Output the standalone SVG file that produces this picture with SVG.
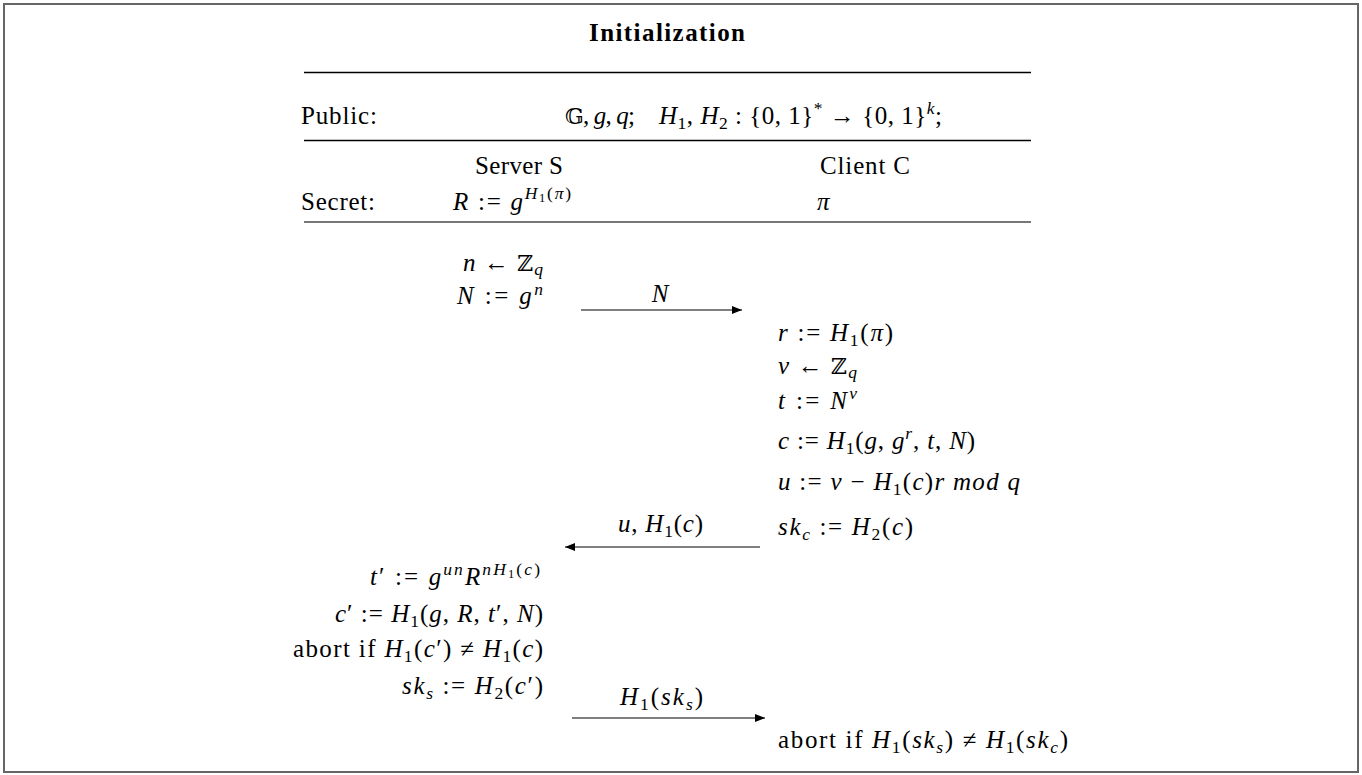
<svg xmlns="http://www.w3.org/2000/svg" width="1362" height="775" viewBox="0 0 1362 775">
<defs>
<style>
text{font-family:"Liberation Serif","DejaVu Serif",serif;font-size:25px;fill:#000}
.i{font-style:italic}
.s{font-size:17.5px}
.ss{font-size:12.5px}
.b{font-family:"DejaVu Serif","Liberation Serif",serif;font-size:22px}
.rule{stroke:#000;stroke-width:1.3}
.conn{stroke:#000;stroke-width:1.2;fill:none}
</style>
<marker id="ah" viewBox="0 0 10 8" refX="10" refY="4" markerWidth="10" markerHeight="8" markerUnits="userSpaceOnUse" orient="auto">
<path d="M0,0 L10,4 L0,8 z" fill="#000"/>
</marker>
</defs>
<rect x="4" y="4" width="1354" height="768" fill="#fff" stroke="#666" stroke-width="2"/>
<g id="header">
<text x="667" y="41" text-anchor="middle" font-weight="bold" textLength="156">Initialization</text>
<line class="rule" x1="304" y1="72.5" x2="1031" y2="72.5"/>
<text x="301" y="124" textLength="76">Public:</text>
<text x="565" y="124" textLength="70"><tspan class="b">𝔾</tspan>, <tspan class="i">g</tspan>, <tspan class="i">q</tspan>;</text>
<text x="659" y="124" textLength="283"><tspan class="i">H</tspan><tspan class="s" dy="5">1</tspan><tspan dy="-5">, </tspan><tspan class="i">H</tspan><tspan class="s" dy="5">2</tspan><tspan dy="-5"> : {0, 1}</tspan><tspan class="s" dy="-10">*</tspan><tspan dy="10"> → {0, 1}</tspan><tspan class="s i" dy="-10">k</tspan><tspan dy="10">;</tspan></text>
<line class="rule" x1="304" y1="140.5" x2="1031" y2="140.5"/>
<text x="519" y="174" text-anchor="middle" textLength="88">Server S</text>
<text x="865" y="174" text-anchor="middle" textLength="90">Client C</text>
<text x="301" y="210" textLength="74">Secret:</text>
<text x="453" y="210" textLength="118"><tspan class="i">R</tspan> := <tspan class="i">g</tspan><tspan class="s i" dy="-11">H</tspan><tspan class="ss" dy="3">1</tspan><tspan class="s" dy="-3">(</tspan><tspan class="s i">π</tspan><tspan class="s">)</tspan></text>
<text x="817" y="210" class="i">π</text>
<line x1="304" y1="222" x2="1031" y2="222" stroke="#777" stroke-width="2"/>
</g>
<g id="server">
<text x="543" y="271" text-anchor="end" textLength="80"><tspan class="i">n</tspan> ← <tspan class="b">ℤ</tspan><tspan class="s i" dy="4">q</tspan></text>
<text x="543" y="304" text-anchor="end" textLength="86"><tspan class="i">N</tspan> := <tspan class="i">g</tspan><tspan class="s i" dy="-9">n</tspan></text>
<text x="540" y="585" text-anchor="end" textLength="170"><tspan class="i">t</tspan>′ := <tspan class="i">g</tspan><tspan class="s i" dy="-10">un</tspan><tspan class="i" dy="10">R</tspan><tspan class="s i" dy="-10">nH</tspan><tspan class="ss" dy="3">1</tspan><tspan class="s" dy="-3">(</tspan><tspan class="s i">c</tspan><tspan class="s">)</tspan></text>
<text x="543" y="622" text-anchor="end" textLength="208"><tspan class="i">c</tspan>′ := <tspan class="i">H</tspan><tspan class="s" dy="5">1</tspan><tspan dy="-5">(</tspan><tspan class="i">g</tspan>, <tspan class="i">R</tspan>, <tspan class="i">t</tspan>′, <tspan class="i">N</tspan>)</text>
<text x="543" y="657" text-anchor="end" textLength="250">abort if <tspan class="i">H</tspan><tspan class="s" dy="5">1</tspan><tspan dy="-5">(</tspan><tspan class="i">c</tspan>′) ≠ <tspan class="i">H</tspan><tspan class="s" dy="5">1</tspan><tspan dy="-5">(</tspan><tspan class="i">c</tspan>)</text>
<text x="543" y="694" text-anchor="end" textLength="141"><tspan class="i">sk</tspan><tspan class="s i" dy="5">s</tspan><tspan dy="-5"> := </tspan><tspan class="i">H</tspan><tspan class="s" dy="5">2</tspan><tspan dy="-5">(</tspan><tspan class="i">c</tspan>′)</text>
</g>
<g id="client">
<text x="778" y="341" textLength="115"><tspan class="i">r</tspan> := <tspan class="i">H</tspan><tspan class="s" dy="5">1</tspan><tspan dy="-5">(</tspan><tspan class="i">π</tspan>)</text>
<text x="778" y="374" textLength="79"><tspan class="i">v</tspan> ← <tspan class="b">ℤ</tspan><tspan class="s i" dy="4">q</tspan></text>
<text x="778" y="409" textLength="79"><tspan class="i">t</tspan> := <tspan class="i">N</tspan><tspan class="s i" dy="-10">v</tspan></text>
<text x="778" y="449" textLength="197"><tspan class="i">c</tspan> := <tspan class="i">H</tspan><tspan class="s" dy="5">1</tspan><tspan dy="-5">(</tspan><tspan class="i">g</tspan>, <tspan class="i">g</tspan><tspan class="s i" dy="-10">r</tspan><tspan dy="10">, </tspan><tspan class="i">t</tspan>, <tspan class="i">N</tspan>)</text>
<text x="778" y="490" textLength="242"><tspan class="i">u</tspan> := <tspan class="i">v</tspan> − <tspan class="i">H</tspan><tspan class="s" dy="5">1</tspan><tspan dy="-5">(</tspan><tspan class="i">c</tspan>)<tspan class="i">r mod q</tspan></text>
<text x="778" y="535" textLength="135"><tspan class="i">sk</tspan><tspan class="s i" dy="5">c</tspan><tspan dy="-5"> := </tspan><tspan class="i">H</tspan><tspan class="s" dy="5">2</tspan><tspan dy="-5">(</tspan><tspan class="i">c</tspan>)</text>
<text x="778" y="748" textLength="290">abort if <tspan class="i">H</tspan><tspan class="s" dy="5">1</tspan><tspan dy="-5">(</tspan><tspan class="i">sk</tspan><tspan class="s i" dy="5">s</tspan><tspan dy="-5">) ≠ </tspan><tspan class="i">H</tspan><tspan class="s" dy="5">1</tspan><tspan dy="-5">(</tspan><tspan class="i">sk</tspan><tspan class="s i" dy="5">c</tspan><tspan dy="-5">)</tspan></text>
</g>
<g id="connectors">
<line class="conn" x1="581" y1="310" x2="742" y2="310" marker-end="url(#ah)"/>
<text x="660" y="302" text-anchor="middle" class="i">N</text>
<line class="conn" x1="760" y1="547" x2="565" y2="547" marker-end="url(#ah)"/>
<text x="618" y="532" textLength="85"><tspan class="i">u</tspan>, <tspan class="i">H</tspan><tspan class="s" dy="5">1</tspan><tspan dy="-5">(</tspan><tspan class="i">c</tspan>)</text>
<line class="conn" x1="572" y1="718" x2="765" y2="718" marker-end="url(#ah)"/>
<text x="620" y="705" textLength="83"><tspan class="i">H</tspan><tspan class="s" dy="5">1</tspan><tspan dy="-5">(</tspan><tspan class="i">sk</tspan><tspan class="s i" dy="5">s</tspan><tspan dy="-5">)</tspan></text>
</g>
</svg>
